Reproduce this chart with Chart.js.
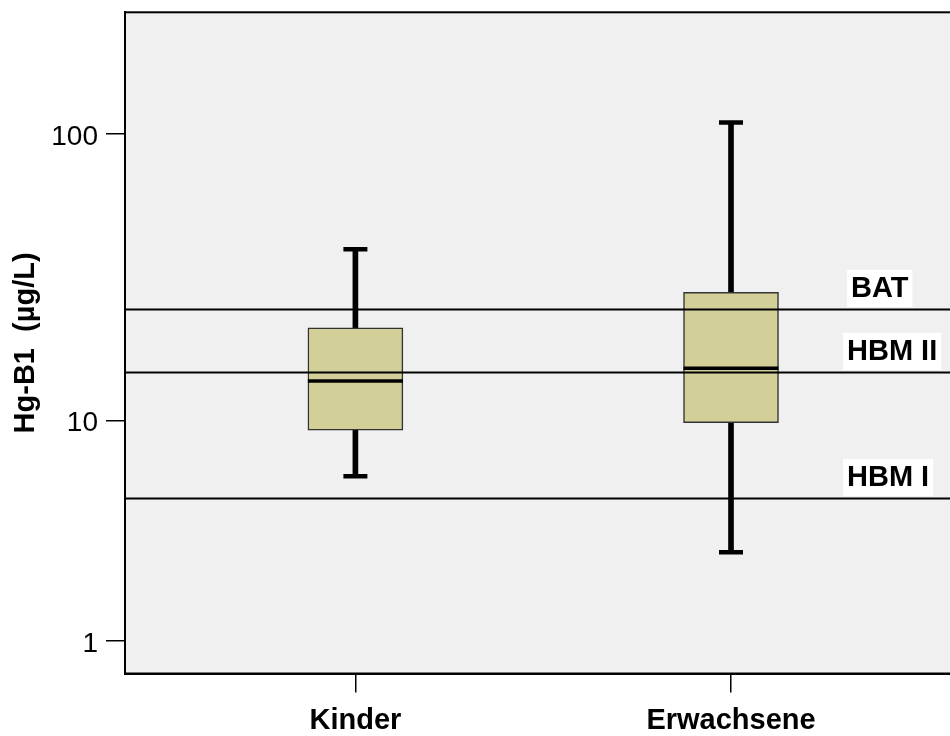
<!DOCTYPE html>
<html>
<head>
<meta charset="utf-8">
<script src="https://cdn.jsdelivr.net/npm/chart.js@4/dist/chart.umd.min.js"></script>
<style>
    html, body { margin: 0; padding: 0; background: #fff; overflow: hidden; }
    canvas { display: block; }
</style>
</head>
<body>
<canvas id="hgChart" width="953" height="736"></canvas>
<script>
// Hg in blood, children vs adults (box = quartiles, whiskers = range)
const groups = ['Kinder', 'Erwachsene'];
const groupPos = [1, 2];
const whiskerLow = [5.9, 2.72];
const q1 = [9.17, 9.82];
const median = [14.3, 15.97];
const q3 = [22.6, 30.25];
const whiskerHigh = [42.6, 108.7];

// Reference values drawn as horizontal lines
const refNames = ['BAT', 'HBM II', 'HBM I'];
const refValues = [26.3, 15.4, 4.74];

const yTicks = [1, 10, 100];
const yMin = 0.672;
const yMax = 227.6;
const xMin = 0.3866;
const xMax = 2.5857;

// The value axis is compressed towards the top: v^Y_EXP spacing instead of a pure log
const Y_EXP = 0.11397;

class PowerLogScale extends Chart.LogarithmicScale {
    configure() {
        super.configure();
        this._pMin = Math.pow(this.min, Y_EXP);
        this._pMax = Math.pow(this.max, Y_EXP);
    }
    getPixelForValue(value) {
        if (value === undefined || value === 0) value = this.min;
        if (value === null || isNaN(value)) return NaN;
        const d = (Math.pow(value, Y_EXP) - this._pMin) / (this._pMax - this._pMin);
        return this.getPixelForDecimal(d);
    }
    getValueForPixel(pixel) {
        const d = this.getDecimalForPixel(pixel);
        return Math.pow(this._pMin + d * (this._pMax - this._pMin), 1 / Y_EXP);
    }
}
PowerLogScale.id = 'powerlog';
PowerLogScale.defaults = Chart.LogarithmicScale.defaults;
Chart.register(PowerLogScale);

const FONT = "'Liberation Sans', Arial, sans-serif";

const plotFrame = {
    id: 'plotFrame',
    beforeDraw(chart) {
        const { ctx, chartArea: a } = chart;
        ctx.save();
        ctx.fillStyle = '#f0f0f0';
        ctx.fillRect(a.left, a.top, a.right - a.left, a.bottom - a.top);
        ctx.restore();
    },
    afterDraw(chart) {
        const { ctx, chartArea: a } = chart;
        ctx.save();
        ctx.strokeStyle = '#000';
        ctx.lineWidth = 2;
        ctx.strokeRect(a.left, a.top, a.right - a.left, a.bottom - a.top);
        ctx.restore();
    }
};

// White boxes with the names of the reference lines
const refLabels = {
    id: 'refLabels',
    afterDatasetsDraw(chart) {
        const { ctx } = chart;
        const y = chart.scales.y;
        ctx.save();
        ctx.font = 'bold 29px ' + FONT;
        ctx.textBaseline = 'alphabetic';
        refNames.forEach((name, i) => {
            const py = y.getPixelForValue(refValues[i]);
            const w = ctx.measureText(name).width;
            const left = i === 0 ? 847 : 843;
            const bottom = py - 2.6;
            ctx.fillStyle = '#fff';
            ctx.fillRect(left, bottom - 37, w + 8, 37);
            ctx.fillStyle = '#000';
            ctx.fillText(name, left + 4, bottom - 9.5);
        });
        ctx.restore();
    }
};

const pts = arr => arr.map((v, i) => ({ x: groupPos[i], y: v }));
const spans = (a, b) => a.map((v, i) => ({ x: groupPos[i], y: [v, b[i]] }));

const datasets = [
    {
        type: 'line', label: 'median', data: pts(median), order: 0,
        showLine: false, pointStyle: 'line', pointRadius: 47.5, pointHoverRadius: 47.5,
        pointBorderWidth: 3.5, pointHoverBorderWidth: 3.5, borderColor: '#000'
    },
    {
        type: 'line', label: 'caps', data: pts(whiskerLow).concat(pts(whiskerHigh)),
        order: 1, showLine: false, pointStyle: 'line', pointRadius: 12, pointHoverRadius: 12,
        pointBorderWidth: 4.5, pointHoverBorderWidth: 4.5, borderColor: '#000'
    }
];

refValues.forEach((v, i) => {
    datasets.push({
        type: 'line', label: refNames[i], order: 2,
        data: [{ x: xMin, y: v }, { x: xMax, y: v }],
        borderColor: '#000', borderWidth: 2, pointRadius: 0, pointHoverRadius: 0
    });
});

datasets.push(
    {
        type: 'bar', label: 'box', data: spans(q1, q3), order: 3, grouped: false,
        barThickness: 95, backgroundColor: '#d3cf98', borderColor: '#333',
        borderWidth: 1.5, borderSkipped: false
    },
    {
        type: 'bar', label: 'upper whisker', data: spans(q3, whiskerHigh), order: 4, grouped: false,
        barThickness: 5, backgroundColor: '#000', borderWidth: 0
    },
    {
        type: 'bar', label: 'lower whisker', data: spans(whiskerLow, q1), order: 4, grouped: false,
        barThickness: 5, backgroundColor: '#000', borderWidth: 0
    }
);

new Chart(document.getElementById('hgChart'), {
    type: 'bar',
    data: { datasets: datasets },
    options: {
        responsive: false,
        animation: false,
        events: [],
        layout: { autoPadding: false, padding: { top: 12.3, right: 2, left: 0, bottom: 0 } },
        plugins: {
            legend: { display: false },
            tooltip: { enabled: false }
        },
        scales: {
            x: {
                type: 'linear',
                min: xMin,
                max: xMax,
                offset: false,
                afterFit: scale => {
                    scale.height = 62.5;
                    scale.paddingLeft = 0;
                    scale.paddingRight = 0;
                },
                afterBuildTicks: scale => { scale.ticks = groupPos.map(v => ({ value: v })); },
                grid: {
                    offset: false, drawOnChartArea: false, drawTicks: true,
                    tickLength: 19, color: '#000', lineWidth: 1.5
                },
                border: { display: true, color: '#000', width: 2 },
                ticks: {
                    padding: 11,
                    color: '#000',
                    font: { family: FONT, size: 29, weight: 'bold' },
                    callback: v => groups[groupPos.indexOf(v)] || ''
                }
            },
            y: {
                type: 'powerlog',
                min: yMin,
                max: yMax,
                bounds: 'data',
                afterFit: scale => {
                    scale.width = 125;
                    scale.paddingTop = 0;
                    scale.paddingBottom = 0;
                },
                afterBuildTicks: scale => { scale.ticks = yTicks.map(v => ({ value: v })); },
                grid: {
                    drawOnChartArea: false, drawTicks: true,
                    tickLength: 19, color: '#000', lineWidth: 1.5
                },
                border: { display: true, color: '#000', width: 2 },
                ticks: {
                    padding: 8,
                    labelOffset: 3,
                    color: '#000',
                    font: { family: FONT, size: 28 },
                    callback: v => String(v)
                },
                title: {
                    display: true,
                    text: 'Hg-B1  (µg/L)',
                    color: '#000',
                    padding: { top: 9, bottom: 0 },
                    font: { family: FONT, size: 29, weight: 'bold' }
                }
            }
        }
    },
    plugins: [plotFrame, refLabels]
});
</script>
</body>
</html>
